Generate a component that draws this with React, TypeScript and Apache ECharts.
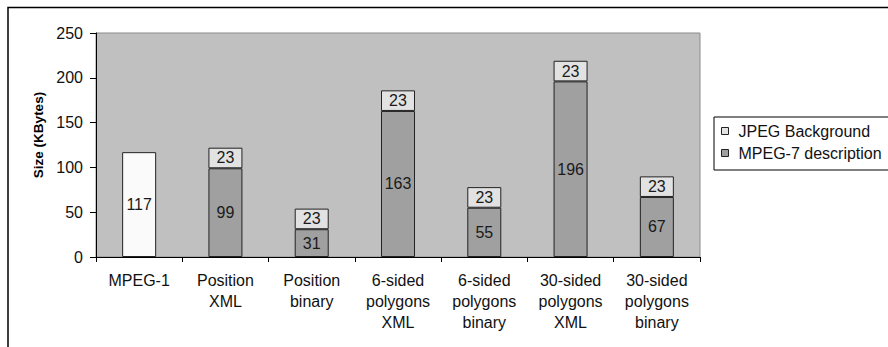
import React, { useEffect, useRef } from "react";
import * as echarts from "echarts";

const categories = [
  "MPEG-1",
  "Position\nXML",
  "Position\nbinary",
  "6-sided\npolygons\nXML",
  "6-sided\npolygons\nbinary",
  "30-sided\npolygons\nXML",
  "30-sided\npolygons\nbinary",
];
const mpeg7Values = [117, 99, 31, 163, 55, 196, 67];
const jpegValues: (number | string)[] = ["-", 23, 23, 23, 23, 23, 23];
const yTicks = { min: 0, max: 250, interval: 50 };
const seriesNames = ["JPEG Background", "MPEG-7 description"];

const FONT = "'Liberation Sans', Arial, sans-serif";

export default function App() {
  const ref = useRef<HTMLDivElement>(null);
  useEffect(() => {
    document.body.style.margin = "0";
    if (!ref.current) return;
    const chart = echarts.init(ref.current, undefined, { renderer: "svg" });
    const labelStyle = {
      show: true,
      position: "inside" as const,
      color: "#1a1a1a",
      fontSize: 16,
      fontFamily: FONT,
    };
    chart.setOption({
      animation: false,
      backgroundColor: "#ffffff",
      textStyle: { fontFamily: FONT },
      grid: {
        left: 96,
        right: 188,
        top: 33,
        bottom: 90,
        show: true,
        backgroundColor: "#c0c0c0",
        borderColor: "#8a8a8a",
        borderWidth: 1,
      },
      legend: {
        orient: "vertical",
        left: 714,
        top: 117,
        data: seriesNames,
        icon: "rect",
        itemWidth: 7,
        itemHeight: 7,
        itemGap: 6,
        padding: [6, 40, 9, 7],
        borderColor: "#000",
        borderWidth: 1,
        backgroundColor: "#fff",
        textStyle: {
          fontSize: 16,
          fontFamily: FONT,
          color: "#111",
          padding: [0, 0, 0, 5],
        },
        itemStyle: { borderColor: "#222", borderWidth: 1 },
      },
      xAxis: {
        type: "category",
        data: categories,
        axisLine: { lineStyle: { color: "#000", width: 1 } },
        axisTick: { show: true, length: 5, lineStyle: { color: "#000" } },
        axisLabel: {
          interval: 0,
          color: "#111",
          fontSize: 16,
          fontFamily: FONT,
          lineHeight: 21,
          margin: 13,
        },
      },
      yAxis: {
        type: "value",
        min: yTicks.min,
        max: yTicks.max,
        interval: yTicks.interval,
        axisLine: { show: true, lineStyle: { color: "#000", width: 1 } },
        axisTick: { show: true, length: 6, lineStyle: { color: "#000" } },
        axisLabel: { color: "#111", fontSize: 16, fontFamily: FONT, margin: 13 },
        splitLine: { show: false },
      },
      graphic: [
        {
          type: "rect",
          shape: { x: 8, y: 7.5, width: 1000, height: 1000 },
          style: { fill: "none", stroke: "#000", lineWidth: 1.5 },
          silent: true,
          z: 100,
        },
        {
          type: "text",
          x: 38,
          y: 135,
          rotation: Math.PI / 2,
          style: {
            text: "Size (KBytes)",
            fontSize: 13.5,
            fontWeight: "bold",
            fontFamily: FONT,
            fill: "#000",
            align: "center",
            verticalAlign: "middle",
          },
        },
      ],
      series: [
        {
          name: seriesNames[1],
          type: "bar",
          stack: "total",
          barWidth: 34,
          data: mpeg7Values.map((v, i) =>
            i === 0 ? { value: v, itemStyle: { color: "#fafafa" } } : v
          ),
          itemStyle: { color: "#a0a0a0", borderColor: "#222", borderWidth: 1 },
          label: labelStyle,
        },
        {
          name: seriesNames[0],
          type: "bar",
          stack: "total",
          barWidth: 34,
          data: jpegValues,
          itemStyle: { color: "#e2e2e2", borderColor: "#222", borderWidth: 1 },
          label: labelStyle,
        },
      ],
    });
    return () => chart.dispose();
  }, []);
  return <div ref={ref} style={{ width: 888, height: 347 }} />;
}
